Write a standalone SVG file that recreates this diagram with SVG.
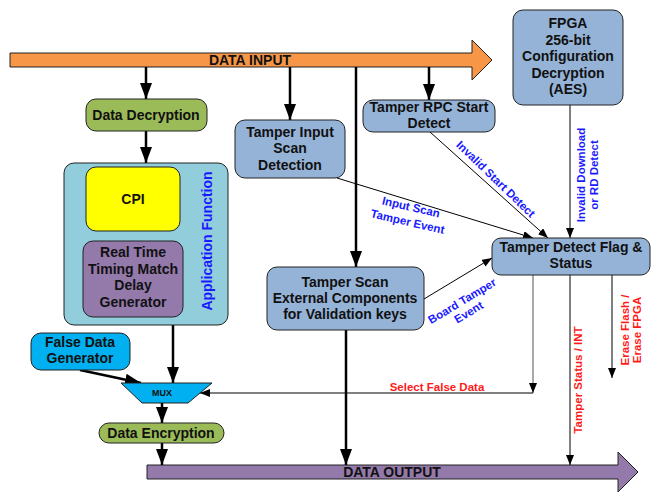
<svg xmlns="http://www.w3.org/2000/svg" width="654" height="493" viewBox="0 0 654 493">
<style>
.box{stroke:#222;stroke-width:1}
.bg{fill:#95b3d7}
.gr{fill:#9bbb59}
.t{font-family:"Liberation Sans",Arial,sans-serif;font-weight:bold;font-size:14px;fill:#111;text-anchor:middle}
.lb{font-family:"Liberation Sans",Arial,sans-serif;font-weight:bold;font-size:11.5px;fill:#1a1aff;text-anchor:middle}
.lr{font-family:"Liberation Sans",Arial,sans-serif;font-weight:bold;font-size:11.5px;fill:#ff1a1a;text-anchor:middle}
.thick{stroke:#000;stroke-width:2.5;fill:none}
.thin{stroke:#000;stroke-width:1;fill:none}
.gray{stroke:#555;stroke-width:1;fill:none}
</style>
<defs>
<marker id="big" markerUnits="userSpaceOnUse" markerWidth="16" markerHeight="12" refX="16" refY="6" orient="auto">
<path d="M0,0 L16,6 L0,12 z" fill="#000"/>
</marker>
<marker id="small" markerUnits="userSpaceOnUse" markerWidth="10" markerHeight="8" refX="10" refY="4" orient="auto">
<path d="M0,0 L10,4 L0,8 z" fill="#000"/>
</marker>
</defs>
<rect width="654" height="493" fill="#fff"/>

<g id="data-input">
<polygon points="10,53 472,53 472,40 492,60 472,80 472,67 10,67" fill="#f79646" stroke="#222" stroke-width="1"/>
<text class="t" x="250" y="65">DATA INPUT</text>
</g>

<g id="data-output">
<polygon points="147,465 618,465 618,452 638,472 618,492 618,479 147,479" fill="#9479ab" stroke="#222" stroke-width="1"/>
<text class="t" x="392" y="477">DATA OUTPUT</text>
</g>

<g id="connectors">
<line class="thick" x1="146" y1="67" x2="146" y2="99" marker-end="url(#big)"/>
<line class="thick" x1="290" y1="67" x2="290" y2="120" marker-end="url(#big)"/>
<line class="thick" x1="356" y1="67" x2="356" y2="267" marker-end="url(#big)"/>
<line class="thick" x1="429" y1="67" x2="429" y2="100" marker-end="url(#big)"/>
<line class="thick" x1="146" y1="131" x2="146" y2="163" marker-end="url(#big)"/>
<line class="thick" x1="173" y1="325" x2="173" y2="383" marker-end="url(#big)"/>
<line class="thick" x1="80" y1="370" x2="141" y2="383" marker-end="url(#big)"/>
<line class="thick" x1="162" y1="403" x2="162" y2="423" marker-end="url(#big)"/>
<line class="thick" x1="162" y1="443" x2="162" y2="465" marker-end="url(#big)"/>
<line class="thick" x1="346" y1="330" x2="346" y2="465" marker-end="url(#big)"/>
<line class="thin" x1="430" y1="132" x2="548" y2="238" marker-end="url(#small)"/>
<line class="thin" x1="337" y1="178" x2="533" y2="238" marker-end="url(#small)"/>
<line class="thin" x1="424" y1="299" x2="492" y2="258" marker-end="url(#small)"/>
<line class="thin" x1="570" y1="105" x2="570" y2="238" marker-end="url(#small)"/>
<line class="gray" x1="533" y1="275" x2="533" y2="393" marker-end="url(#small)"/>
<line class="thin" x1="533" y1="393" x2="200" y2="393" marker-end="url(#small)"/>
<line class="thin" x1="570" y1="275" x2="570" y2="465" marker-end="url(#small)"/>
<line class="thin" x1="612" y1="275" x2="612" y2="378" marker-end="url(#small)"/>
<g transform="translate(493,182) rotate(44)"><text class="lb" x="0" y="0">Invalid Start Detect</text></g>
<g transform="translate(411,207) rotate(13)"><text class="lb" x="0" y="4">Input Scan</text><text class="lb" x="0" y="19">Tamper Event</text></g>
<g transform="translate(462,301) rotate(-31)"><text class="lb" x="0" y="4">Board Tamper</text><text class="lb" x="0" y="17">Event</text></g>
<g transform="translate(585,175) rotate(-90)"><text class="lb" x="0" y="0">Invalid Download</text><text class="lb" x="0" y="13">or RD Detect</text></g>
<text class="lr" x="437" y="391">Select False Data</text>
<g transform="translate(582,380) rotate(-90)"><text class="lr" x="0" y="0">Tamper Status / INT</text></g>
<g transform="translate(629,330) rotate(-90)"><text class="lr" x="0" y="0">Erase Flash /</text><text class="lr" x="0" y="12">Erase FPGA</text></g>
</g>

<g id="data-decryption">
<rect class="box gr" x="86" y="99" width="121" height="32" rx="10"/>
<text class="t" x="146" y="120">Data Decryption</text>
</g>

<g id="application-function">
<rect class="box" x="64" y="163" width="164" height="162" rx="10" fill="#92cddc"/>
<g transform="translate(212,241) rotate(-90)"><text class="t" x="0" y="0" style="fill:#1a1aff">Application Function</text></g>
</g>

<g id="cpi">
<rect class="box" x="86" y="167" width="94" height="64" rx="10" fill="#ffff00"/>
<text class="t" x="133" y="204">CPI</text>
</g>

<g id="real-time">
<rect class="box" x="83" y="241" width="100" height="76" rx="10" fill="#9479ab"/>
<text class="t" x="133" y="257">Real Time</text>
<text class="t" x="133" y="274">Timing Match</text>
<text class="t" x="133" y="290">Delay</text>
<text class="t" x="133" y="307">Generator</text>
</g>

<g id="tamper-input-scan">
<rect class="box bg" x="235" y="120" width="110" height="58" rx="10"/>
<text class="t" x="290" y="137">Tamper Input</text>
<text class="t" x="290" y="153">Scan</text>
<text class="t" x="290" y="170">Detection</text>
</g>

<g id="tamper-rpc">
<rect class="box bg" x="363" y="100" width="132" height="32" rx="10"/>
<text class="t" x="429" y="112">Tamper RPC Start</text>
<text class="t" x="429" y="128">Detect</text>
</g>

<g id="fpga">
<rect class="box bg" x="513" y="10" width="110" height="95" rx="10"/>
<text class="t" x="568" y="28">FPGA</text>
<text class="t" x="568" y="45">256-bit</text>
<text class="t" x="568" y="61">Configuration</text>
<text class="t" x="568" y="78">Decryption</text>
<text class="t" x="568" y="94">(AES)</text>
</g>

<g id="tamper-detect-flag">
<rect class="box bg" x="492" y="238" width="158" height="37" rx="9"/>
<text class="t" x="571" y="252">Tamper Detect Flag &amp;</text>
<text class="t" x="571" y="268">Status</text>
</g>

<g id="tamper-scan-external">
<rect class="box bg" x="267" y="267" width="157" height="63" rx="10"/>
<text class="t" x="345" y="287">Tamper Scan</text>
<text class="t" x="345" y="303">External Components</text>
<text class="t" x="345" y="319">for Validation keys</text>
</g>

<g id="false-data-generator">
<rect class="box" x="31" y="333" width="99" height="37" rx="10" fill="#00b0f0"/>
<text class="t" x="80" y="347">False Data</text>
<text class="t" x="80" y="363">Generator</text>
</g>

<g id="mux">
<polygon points="121,383 212,383 188,403 142,403" fill="#00b0f0" stroke="#222" stroke-width="1"/>
<text class="t" x="162" y="396" style="font-size:9px">MUX</text>
</g>

<g id="data-encryption">
<rect class="box gr" x="99" y="423" width="125" height="20" rx="10"/>
<text class="t" x="161" y="438">Data Encryption</text>
</g>
</svg>
